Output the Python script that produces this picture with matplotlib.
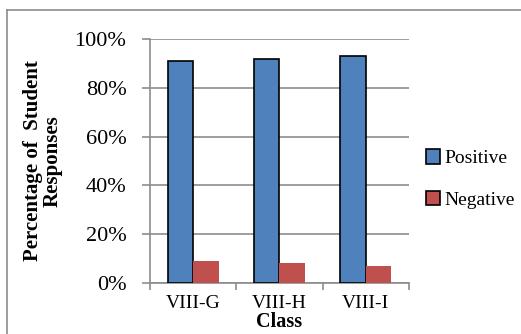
import numpy as np
import matplotlib
matplotlib.use('Agg')
import matplotlib.pyplot as plt
from matplotlib.patches import Patch
from matplotlib.lines import Line2D

classes = ['VIII-G', 'VIII-H', 'VIII-I']
positive = [91, 92, 93]
negative = [9, 8, 7]
yticks = [0, 20, 40, 60, 80, 100]

plt.rcParams['font.family'] = ['Liberation Serif', 'DejaVu Serif']

blue = '#4F81BD'
red = '#C0504D'
grey = '#8c8c8c'

fig = plt.figure(figsize=(5.21, 3.34), dpi=100)
ax = fig.add_axes([0.2879, 0.1527, 0.4971, 0.7305])

x = np.arange(len(classes))
w = 0.295
ax.bar(x - w / 2, positive, w, color=blue, edgecolor='black', linewidth=1.2, zorder=3)
ax.bar(x + w / 2, negative, w, color=red, linewidth=0, zorder=3)

ax.set_xlim(-0.5, 2.5)
ax.set_ylim(0, 100)
ax.set_yticks(yticks)
ax.set_yticklabels([f'{v}%' for v in yticks], fontsize=16)
ax.yaxis.grid(True, color=grey, linewidth=1.2, zorder=0)

# ticks between categories, labels centred under each group
ax.set_xticks([-0.5, 0.5, 1.5, 2.5])
ax.set_xticklabels([])
ax.set_xticks(x, minor=True)
ax.set_xticklabels(classes, minor=True, fontsize=14)
ax.tick_params(axis='x', which='major', length=5, color=grey, width=1.2, direction='out')
ax.tick_params(axis='x', which='minor', length=0, pad=9)
ax.tick_params(axis='y', length=6, color=grey, width=1.2, pad=11)

for s in ['top', 'right']:
    ax.spines[s].set_visible(False)
for s in ['left', 'bottom']:
    ax.spines[s].set_color(grey)
    ax.spines[s].set_linewidth(1.2)

fig.text(279 / 521, 1 - 322 / 334, 'Class', fontsize=14.5, fontweight='bold',
         ha='center', va='center')
fig.text(43 / 521, 1 - 161 / 334, 'Percentage of  Student\nResponses', fontsize=15,
         fontweight='bold', rotation=90, ha='center', va='center', linespacing=1.0)

handles = [Patch(facecolor=blue, edgecolor='black', linewidth=1.2),
           Patch(facecolor=red, edgecolor='black', linewidth=1.2)]
fig.legend(handles, ['Positive', 'Negative'], loc='center left',
           bbox_to_anchor=(418 / 521, 1 - 179 / 334), frameon=False, fontsize=14,
           handlelength=0.75, handleheight=0.75, handletextpad=0.2, labelspacing=1.2,
           borderaxespad=0)

# outer frame around the chart
fig.add_artist(Line2D([7 / 521, 1], [1 - 10 / 334] * 2, color=grey, linewidth=1.2,
                      transform=fig.transFigure))
fig.add_artist(Line2D([7 / 521] * 2, [0, 1 - 10 / 334], color=grey, linewidth=1.2,
                      transform=fig.transFigure))

fig.savefig('out.png', dpi=100)
